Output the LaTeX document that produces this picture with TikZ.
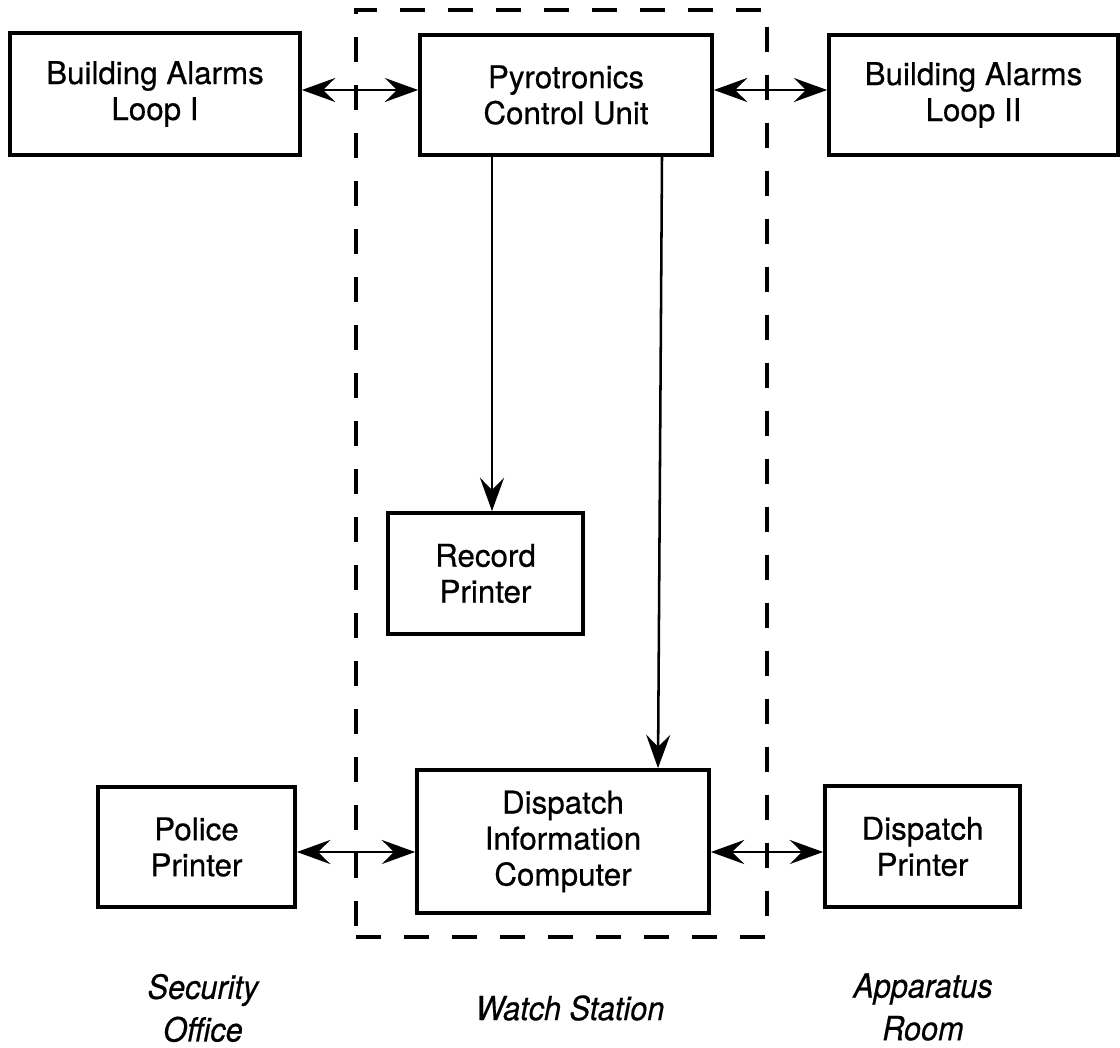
\documentclass[tikz,border=0pt]{standalone}
\usepackage{fontspec}
\setmainfont{TeX Gyre Heros}
\newfontfamily\unitfont{TeX Gyre Heros}[FakeBold=0.5]
\newfontfamily\placefont{TeX Gyre Heros}[FakeStretch=0.92,FakeBold=0.5]
\usetikzlibrary{arrows.meta}
\begin{document}
\begin{tikzpicture}[x=0.75pt,y=-0.75pt,
  unitbox/.style={draw, line width=2.8pt, align=center, inner sep=0pt,
    font=\unitfont\fontsize{23.5}{27}\selectfont},
  link/.style={line width=1.9pt, {Stealth[length=25pt,width=18pt,inset=9pt]}-{Stealth[length=25pt,width=18pt,inset=9pt]}},
  feed/.style={line width=1.9pt, -{Stealth[length=25pt,width=18pt,inset=9pt]}},
  zone/.style={draw, line width=2.6pt, dash pattern=on 18.75pt off 17.25pt, inner sep=0pt},
  place/.style={align=center, font=\placefont\itshape\fontsize{25}{32}\selectfont}]
\useasboundingbox (0,0) rectangle (1120,1048);

% watch station enclosure
\node[zone, minimum width=308.25pt, minimum height=695.25pt] (station) at (561.5,473.5) {};

% units
\node[unitbox, minimum width=217.5pt, minimum height=91.5pt] (loopa) at (155,94) {Building Alarms\\Loop I};
\node[unitbox, minimum width=219pt, minimum height=90pt] (pyro) at (566,95) {Pyrotronics\\Control Unit};
\node[unitbox, minimum width=216.75pt, minimum height=90pt] (loopb) at (973.5,95) {Building Alarms\\Loop II};
\node[unitbox, minimum width=146.25pt, minimum height=90.75pt] (record) at (485.5,573.5) {Record\\Printer};
\node[unitbox, minimum width=147.75pt, minimum height=90pt] (police) at (196.5,847) {Police\\Printer};
\node[unitbox, minimum width=219pt, minimum height=107.25pt] (dic) at (563,841.5) {Dispatch\\Information\\Computer};
\node[unitbox, minimum width=146.25pt, minimum height=90.75pt] (dprint) at (922.5,846.5) {Dispatch\\Printer};

% area captions
\node[place] (secoff) at (203,1008) {Security\\Office};
\node[place] (watch) at (570,1008) {Watch Station};
\node[place] (apprm) at (923,1007) {Apparatus\\Room};

% reference points for the connector runs
\coordinate (toprow) at (0,90);
\coordinate (botrow) at (0,852);
\coordinate (recx) at (492,0);
\coordinate (dicxa) at (662,0);
\coordinate (dicxb) at (658,0);

% connectors
\draw[link] (loopa.east |- toprow) -- (pyro.west |- toprow);
\draw[link] (pyro.east |- toprow) -- (loopb.west |- toprow);
\draw[feed] (pyro.south -| recx) -- (record.north -| recx);
\draw[feed] (pyro.south -| dicxa) -- (dic.north -| dicxb);
\draw[link] (police.east |- botrow) -- (dic.west |- botrow);
\draw[link] (dic.east |- botrow) -- (dprint.west |- botrow);
\end{tikzpicture}
\end{document}
